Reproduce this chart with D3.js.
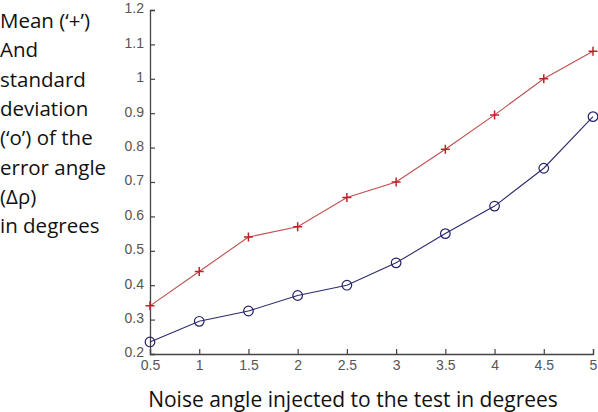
<!DOCTYPE html>
<html><head><meta charset="utf-8">
<script src="https://cdn.jsdelivr.net/npm/d3@7"></script>
<style>body{margin:0;background:#fff}</style>
</head><body>
<svg id="c" width="598" height="412"></svg>
<script>
const noiseAngles = [0.5,1,1.5,2,2.5,3,3.5,4,4.5,5];
const meanValues = [0.34,0.44,0.54,0.57,0.655,0.70,0.795,0.895,1.0,1.08];
const stdValues = [0.235,0.295,0.325,0.37,0.40,0.465,0.55,0.63,0.74,0.89];
const xTicks = [0.5,1,1.5,2,2.5,3,3.5,4,4.5,5];
const yTicks = [0.2,0.3,0.4,0.5,0.6,0.7,0.8,0.9,1,1.1,1.2];
const yLabelLines = ["Mean (\u2018+\u2019)","And","standard","deviation","(\u2018o\u2019) of the","error angle","(\u0394\u03c1)","in degrees"];
const xLabel = "Noise angle injected to the test in degrees";

const svg = d3.select("#c");
const x = d3.scaleLinear().domain([0.5,5]).range([150,593]);
const y = d3.scaleLinear().domain([0.2,1.2]).range([354,10]);
const axisColor = "#444";

const gx = svg.append("g").attr("transform","translate(0,354)")
  .call(d3.axisBottom(x).tickValues(xTicks).tickSize(-5).tickPadding(6).tickFormat(d3.format("")));
const gy = svg.append("g").attr("transform","translate(150,0)")
  .call(d3.axisLeft(y).tickValues(yTicks).tickSize(-5).tickPadding(6).tickFormat(d3.format("")));
[gx,gy].forEach(g=>{
  g.select(".domain").attr("stroke",axisColor).attr("stroke-width",1.3);
  g.selectAll(".tick line").attr("stroke",axisColor).attr("stroke-width",1.2);
  g.selectAll(".tick text").attr("fill","#555").attr("font-family","Liberation Sans, Arial, sans-serif").attr("font-size",14);
});
gx.selectAll(".tick text").attr("dy","0.7em");
gy.selectAll(".tick text").attr("dy","0.2em");

const line = d3.line().x((d,i)=>x(noiseAngles[i])).y(d=>y(d));
svg.append("path").datum(meanValues).attr("d",line).attr("fill","none").attr("stroke","#c0504d").attr("stroke-width",1.1);
svg.append("path").datum(stdValues).attr("d",line).attr("fill","none").attr("stroke","#2c2c70").attr("stroke-width",1.1);

svg.selectAll(".plus").data(meanValues).enter().append("path")
  .attr("d",(d,i)=>{const cx=x(noiseAngles[i]),cy=y(d),s=4.5;return `M${cx-s},${cy}H${cx+s}M${cx},${cy-s}V${cy+s}`;})
  .attr("stroke","#c0202a").attr("stroke-width",1.5);
svg.selectAll(".circ").data(stdValues).enter().append("circle")
  .attr("cx",(d,i)=>x(noiseAngles[i])).attr("cy",d=>y(d)).attr("r",4.8)
  .attr("fill","none").attr("stroke","#22226a").attr("stroke-width",1.2);

const lt = svg.append("text").attr("font-family","Open Sans, sans-serif").attr("font-size",20.5).attr("fill","#111");
yLabelLines.forEach((t,i)=>lt.append("tspan").attr("x",0).attr("y",28+i*29.3).text(t));

svg.append("text").attr("x",353).attr("y",407).attr("text-anchor","middle")
  .attr("font-family","Open Sans, sans-serif").attr("font-size",21).attr("fill","#111").text(xLabel);
</script>
</body></html>
